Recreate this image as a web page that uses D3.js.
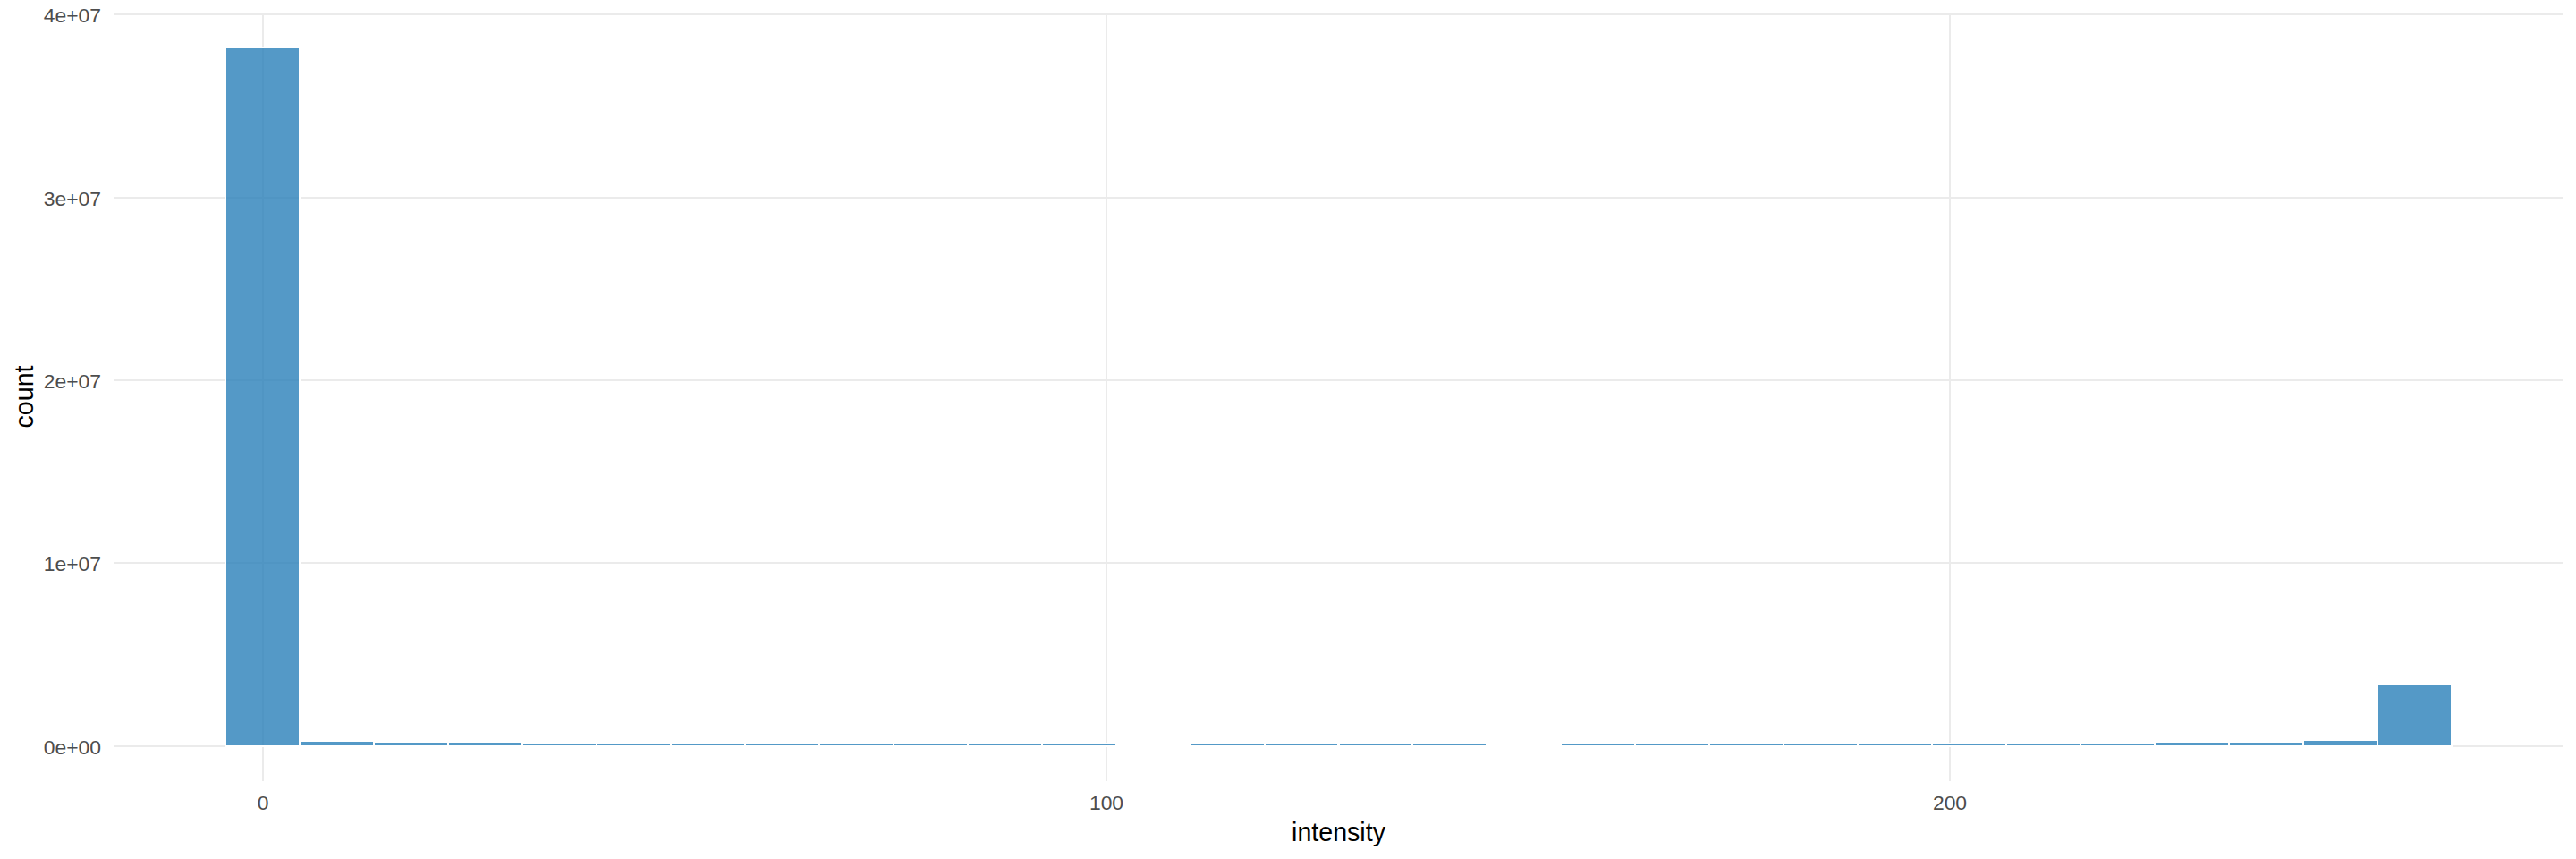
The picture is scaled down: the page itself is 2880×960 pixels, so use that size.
<!DOCTYPE html>
<html>
<head>
<meta charset="utf-8">
<script src="https://cdn.jsdelivr.net/npm/d3@7"></script>
<style>
  html, body { margin: 0; padding: 0; background: #fff; }
  svg { display: block; font-family: "Liberation Sans", Arial, sans-serif; }
  .grid line { stroke: #ebebeb; stroke-width: 2; }
  .grid path { display: none; }
  .grid text { fill: #4d4d4d; font-size: 22.9px; }
  .axis-title { fill: #000; font-size: 28.6px; text-anchor: middle; }
  .bar { fill: #2980b9; fill-opacity: 0.8; stroke: #fff; stroke-width: 2; }
</style>
</head>
<body>
<svg id="chart"></svg>
<script>
// histogram bins
const binCenters = [0, 8.79, 17.59, 26.38, 35.17, 43.97, 52.76, 61.55, 70.34, 79.14,
  87.93, 96.72, 105.52, 114.31, 123.10, 131.90, 140.69, 149.48, 158.28, 167.07,
  175.86, 184.66, 193.45, 202.24, 211.03, 219.83, 228.62, 237.41, 246.21, 255];
const binCounts = [38190000, 290000, 245000, 245000, 195000, 195000, 195000, 147000, 147000, 147000,
  147000, 147000, 60000, 147000, 147000, 195000, 147000, 60000, 147000, 147000,
  147000, 147000, 195000, 147000, 195000, 195000, 245000, 245000, 340000, 3370000];
const binWidth = 8.793;

const xTicks = [0, 100, 200];
const yTicks = [0, 10000000, 20000000, 30000000, 40000000];
const yTickLabels = ["0e+00", "1e+07", "2e+07", "3e+07", "4e+07"];

// Set up the dimensions for the SVG container
const svgWidth = 2880;
const svgHeight = 960;
const margin = { top: 14, right: 15, bottom: 87, left: 128 };
const width = svgWidth - margin.left - margin.right;
const height = svgHeight - margin.top - margin.bottom;

const svg = d3.select("#chart")
  .attr("width", svgWidth)
  .attr("height", svgHeight);

const chart = svg.append("g")
  .attr("transform", "translate(" + margin.left + "," + margin.top + ")");

// 5% expansion on both scales, same as the default of the original plot
const xMin = d3.min(binCenters) - binWidth / 2;
const xMax = d3.max(binCenters) + binWidth / 2;
const xPad = (xMax - xMin) * 0.05;
const xScale = d3.scaleLinear()
  .domain([xMin - xPad, xMax + xPad])
  .rangeRound([0, width]); // whole pixels keep the thin bars solid

const yMax = d3.max(binCounts);
const yScale = d3.scaleLinear()
  .domain([-yMax * 0.05, yMax * 1.05])
  .rangeRound([height, 0]);

// Axes double as the grid lines
const xAxisGroup = chart.append("g")
  .attr("class", "grid")
  .attr("transform", "translate(0," + height + ")")
  .call(d3.axisBottom(xScale)
    .tickValues(xTicks)
    .tickFormat(d3.format("d"))
    .tickSize(-height)
    .tickPadding(16)
    .offset(0));

const yAxisGroup = chart.append("g")
  .attr("class", "grid")
  .call(d3.axisLeft(yScale)
    .tickValues(yTicks)
    .tickFormat((d, i) => yTickLabels[i])
    .tickSize(-width)
    .tickPadding(15)
    .offset(0));

yAxisGroup.selectAll("text").attr("dy", "0.4em");
xAxisGroup.selectAll(".domain").remove();
yAxisGroup.selectAll(".domain").remove();

// Create the columns for the chart
chart.selectAll(".bar")
  .data(binCounts)
  .enter().append("rect")
  .attr("class", "bar")
  .attr("x", (d, i) => xScale(binCenters[i] - binWidth / 2))
  .attr("y", d => yScale(d))
  .attr("width", (d, i) => xScale(binCenters[i] + binWidth / 2) - xScale(binCenters[i] - binWidth / 2))
  .attr("height", d => yScale(0) - yScale(d));

// Axis titles
svg.append("text")
  .attr("class", "axis-title")
  .attr("x", margin.left + width / 2)
  .attr("y", 940)
  .text("intensity");

svg.append("text")
  .attr("class", "axis-title")
  .attr("transform", "translate(37," + (margin.top + height / 2) + ") rotate(-90)")
  .text("count");
</script>
</body>
</html>
